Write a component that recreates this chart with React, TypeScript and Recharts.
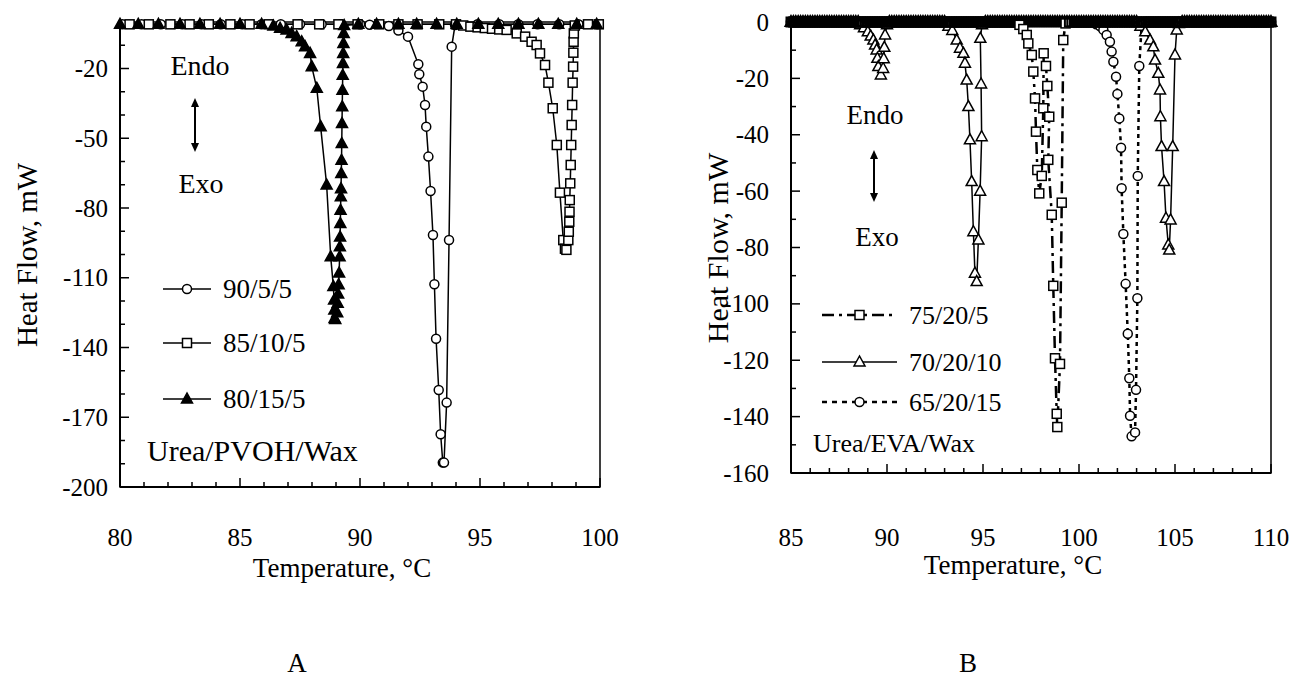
import React from 'react';
import { LineChart, Line, XAxis, YAxis, ReferenceArea } from 'recharts';

type Pt = { x: number; y: number };

const FONT = '"Liberation Serif", "Times New Roman", serif';

// ---------- Panel A : Urea/PVOH/Wax ----------
const seriesNamesA = ['90/5/5', '85/10/5', '80/15/5'];

const tempA1 = [80.1, 80.9, 81.7, 82.6, 83.4, 84.2, 85.1, 85.9, 86.7, 87.5, 88.4, 89.2, 90.0, 90.4, 91.2, 91.6, 92.0,
  92.43, 92.47, 92.61, 92.71, 92.76, 92.85, 92.94, 93.04, 93.1, 93.17, 93.28, 93.36, 93.45, 93.5,
  93.61, 93.71, 93.82, 93.96, 94.9, 95.8, 96.6, 97.4, 98.3, 99.1, 99.9];
const flowA1 = [-1, -1, -1, -1, -1, -1, -1, -1, -1, -1, -1, -1, -1, -1.2, -1.7, -3.7, -6.3,
  -18.2, -22.5, -27.8, -35.7, -45, -57.9, -72.7, -91.6, -112.8, -136.2, -158.3, -177.3, -189.5, -189.5,
  -163.7, -93.8, -10.6, -1.3, -1, -1, -1, -1, -1, -1, -1];

const tempA2 = [80.4, 81.2, 82.1, 82.9, 83.7, 84.6, 85.4, 86.2, 87.4, 88.3, 89.1, 89.9, 90.8, 91.6, 92.4, 93.3, 94.0,
  94.3, 94.6, 94.9, 95.2, 95.5, 95.8, 96.11, 96.53, 96.88, 97.15, 97.36, 97.5, 97.71, 97.85, 98.03, 98.2,
  98.33, 98.47, 98.54, 98.6, 98.68, 98.7, 98.72, 98.73, 98.74, 98.76, 98.78, 98.8, 98.82, 98.84,
  98.86, 98.88, 98.89, 98.9, 98.91, 98.95, 99.5, 99.95];
const flowA2 = [-1, -1, -1, -1, -1, -1, -1, -1, -1, -1, -1, -1, -1, -1, -1, -1, -1,
  -1.5, -2, -2.3, -2.6, -2.9, -3.2, -3.4, -4.9, -6.3, -8.5, -9.9, -13.5, -18.5, -26.1, -37.1, -52.9,
  -73.4, -93.8, -97.5, -98, -93.8, -90.2, -85.9, -81.6, -76.6, -69.4, -61.5, -52.9, -44.3, -35.7,
  -26.1, -19.2, -13.2, -8.5, -4.9, -1.5, -1, -1];

const tempA3 = [80.0, 80.76, 81.6, 82.5, 83.33, 84.17, 85.0, 85.9, 86.39, 86.67, 86.94, 87.15, 87.36, 87.57, 87.71,
  87.92, 87.99, 88.2, 88.36, 88.61, 88.78, 88.89, 88.92, 88.93, 88.94, 88.97,
  89.05, 89.07, 89.09, 89.11, 89.13, 89.15, 89.16, 89.17, 89.18, 89.19, 89.2, 89.21, 89.22, 89.23,
  89.24, 89.25, 89.26, 89.27, 89.28, 89.29, 89.3, 89.31, 89.32, 89.34,
  89.93, 90.69, 91.6, 92.36, 93.19, 94.03, 94.93, 95.76, 96.6, 97.43, 98.26, 99.03, 99.86];
const flowA3 = [-1, -1, -1, -1, -1, -1, -1, -1, -1.7, -2.7, -3.4, -4.9, -6.3, -8.5, -10.6,
  -13.5, -19.2, -28.5, -45, -70.1, -101, -113.8, -119.6, -123.9, -127.5, -128,
  -125, -121, -117, -113, -108, -101, -96.7, -92.5, -86.7, -81, -75.2, -71.7, -65.2, -59.5,
  -52.3, -43.7, -36.5, -29.4, -22.9, -17.8, -13.5, -9.2, -4.9, -1.5,
  -1, -1, -1, -1, -1, -1, -1, -1, -1, -1, -1, -1, -1];

const xTicksA = [80, 81, 82, 83, 84, 85, 86, 87, 88, 89, 90, 91, 92, 93, 94, 95, 96, 97, 98, 99, 100];
const xMajorA = [80, 85, 90, 95, 100];
const yTicksA = [-200, -190, -180, -170, -160, -150, -140, -130, -120, -110, -100, -90, -80, -70, -60, -50, -40, -30, -20, -10];
const yMajorA = [-200, -170, -140, -110, -80, -50, -20];

// ---------- Panel B : Urea/EVA/Wax ----------
const seriesNamesB = ['75/20/5', '70/20/10', '65/20/15'];

// temperatures of the (very dense) points sitting on the 0 mW baseline
const baseTempB = [
  85, 85.125, 85.25, 85.375, 85.5, 85.625, 85.75, 85.875,
  86, 86.125, 86.25, 86.375, 86.5, 86.625, 86.75, 86.875,
  87, 87.125, 87.25, 87.375, 87.5, 87.625, 87.75, 87.875,
  88, 88.125, 88.25, 88.375, 88.5, 88.625, 88.75, 88.875,
  89, 89.125, 89.25, 89.375, 89.5, 89.625, 89.75, 89.875,
  90, 90.125, 90.25, 90.375, 90.5, 90.625, 90.75, 90.875,
  91, 91.125, 91.25, 91.375, 91.5, 91.625, 91.75, 91.875,
  92, 92.125, 92.25, 92.375, 92.5, 92.625, 92.75, 92.875,
  93, 93.125, 93.25, 93.375, 93.5, 93.625, 93.75, 93.875,
  94, 94.125, 94.25, 94.375, 94.5, 94.625, 94.75, 94.875,
  95, 95.125, 95.25, 95.375, 95.5, 95.625, 95.75, 95.875,
  96, 96.125, 96.25, 96.375, 96.5, 96.625, 96.75, 96.875,
  97, 97.125, 97.25, 97.375, 97.5, 97.625, 97.75, 97.875,
  98, 98.125, 98.25, 98.375, 98.5, 98.625, 98.75, 98.875,
  99, 99.125, 99.25, 99.375, 99.5, 99.625, 99.75, 99.875,
  100, 100.125, 100.25, 100.375, 100.5, 100.625, 100.75, 100.875,
  101, 101.125, 101.25, 101.375, 101.5, 101.625, 101.75, 101.875,
  102, 102.125, 102.25, 102.375, 102.5, 102.625, 102.75, 102.875,
  103, 103.125, 103.25, 103.375, 103.5, 103.625, 103.75, 103.875,
  104, 104.125, 104.25, 104.375, 104.5, 104.625, 104.75, 104.875,
  105, 105.125, 105.25, 105.375, 105.5, 105.625, 105.75, 105.875,
  106, 106.125, 106.25, 106.375, 106.5, 106.625, 106.75, 106.875,
  107, 107.125, 107.25, 107.375, 107.5, 107.625, 107.75, 107.875,
  108, 108.125, 108.25, 108.375, 108.5, 108.625, 108.75, 108.875,
  109, 109.125, 109.25, 109.375, 109.5, 109.625, 109.75, 109.875,
  110,
];

const peakTempS = [96.9, 97.1, 97.28, 97.36, 97.54, 97.62, 97.71, 97.76, 97.83, 97.93, 98.06, 98.14, 98.16, 98.28,
  98.35, 98.45, 98.4, 98.58, 98.66, 98.75, 98.84, 98.87, 99.01, 99.1, 99.18, 99.3];
const peakFlowS = [-1, -2.5, -4.6, -7.6, -11.7, -17.6, -27.1, -38.9, -52.5, -60.8, -54.6, -30.6, -11.1, -15.6,
  -22.7, -33.6, -48.9, -68.4, -93.6, -119.3, -139, -143.7, -121.3, -64.1, -6.4, -0.5];

const peak1TempT = [88.6, 88.8, 89.0, 89.15, 89.29, 89.38, 89.46, 89.5, 89.55, 89.68, 89.8, 89.83, 89.86, 89.9, 90.0];
const peak1FlowT = [-1, -2, -3.5, -5, -6.4, -8.2, -9.9, -12.9, -15.8, -18.8, -16.5, -13, -9, -4.6, -1];
const peak2TempT = [93.2, 93.4, 93.63, 93.8, 93.98, 94.06, 94.15, 94.24, 94.32, 94.41, 94.5, 94.58, 94.67, 94.76,
  94.85, 94.93, 94.9, 94.86, 94.95];
const peak2FlowT = [-1.5, -3, -6.4, -9.3, -11.1, -14.6, -20.6, -30, -41.8, -56.6, -74.4, -89.1, -92.1, -77.3,
  -60, -40.7, -22, -5.8, -1];
const peak3TempT = [103.2, 103.45, 103.7, 103.87, 103.96, 104.13, 104.22, 104.24, 104.3, 104.43, 104.53, 104.65,
  104.7, 104.77, 104.88, 105.0, 105.09, 105.2];
const peak3FlowT = [-1.5, -3.5, -6.4, -8.8, -13.5, -18.2, -24.1, -33.6, -44.2, -56.6, -69.6, -79.1, -80.9, -70.2,
  -44.2, -11.7, -2.8, -0.5];

const peakTempC = [100.9, 101.1, 101.27, 101.44, 101.61, 101.7, 101.79, 101.93, 102.0, 102.1, 102.19, 102.22,
  102.31, 102.43, 102.54, 102.62, 102.66, 102.74, 102.92, 102.97, 103.04, 103.06, 103.14, 103.27];
const peakFlowC = [-0.8, -1.5, -2.8, -4.6, -7.0, -10.5, -14.1, -19.4, -25.5, -34.2, -44.6, -59.0, -75.2, -92.9,
  -110.6, -126.4, -139.7, -147, -145.6, -130.5, -98, -54.6, -15.6, -0.2];

const xTicksB = [85, 86, 87, 88, 89, 90, 91, 92, 93, 94, 95, 96, 97, 98, 99, 100, 101, 102, 103, 104, 105, 106, 107, 108, 109, 110];
const xMajorB = [85, 90, 95, 100, 105, 110];
const yTicksB = [-160, -150, -140, -130, -120, -110, -100, -90, -80, -70, -60, -50, -40, -30, -20, -10, 0];
const yMajorB = [-160, -140, -120, -100, -80, -60, -40, -20, 0];

// ---------- helpers ----------
const zip = (t: number[], h: number[]): Pt[] => t.map((x, i) => ({ x, y: h[i] }));
const base = (from: number, to: number): Pt[] =>
  baseTempB.filter((t) => t >= from && t <= to).map((t) => ({ x: t, y: 0 }));

const dataA1 = zip(tempA1, flowA1);
const dataA2 = zip(tempA2, flowA2);
const dataA3 = zip(tempA3, flowA3);

const dataB1 = [...base(85, 96.8), ...zip(peakTempS, peakFlowS), ...base(99.4, 110)];
const dataB2 = [
  ...base(85, 88.5), ...zip(peak1TempT, peak1FlowT), ...base(90.1, 93.1),
  ...zip(peak2TempT, peak2FlowT), ...base(95.1, 103.1), ...zip(peak3TempT, peak3FlowT), ...base(105.3, 110),
];
const dataB3 = [...base(85, 100.8), ...zip(peakTempC, peakFlowC), ...base(103.4, 110)];

type Shape = 'circle' | 'square' | 'triFilled' | 'triOpen';

const marker = (shape: Shape, cx: number, cy: number, key?: string, hollow = false) => {
  const bg = hollow ? 'none' : '#fff';
  const sw = hollow ? 2 : 1.5;
  if (shape === 'circle')
    return <circle key={key} cx={cx} cy={cy} r={4.5} fill={bg} stroke="#000" strokeWidth={sw} />;
  if (shape === 'square')
    return <rect key={key} x={cx - 4.5} y={cy - 4.5} width={9} height={9} fill={bg} stroke="#000" strokeWidth={sw} />;
  const filled = shape === 'triFilled';
  return (
    <polygon
      key={key}
      points={`${cx},${cy - 6} ${cx - 5.5},${cy + 4} ${cx + 5.5},${cy + 4}`}
      fill={filled ? '#000' : bg}
      stroke="#000"
      strokeWidth={sw}
    />
  );
};

// baseline points of panel B overlap so densely that they read as a solid band
const dot = (shape: Shape, hollowBase = false) => (p: any) => {
  if (p.cx == null || p.cy == null) return <g key={`e-${p.index}`} />;
  const hollow = hollowBase && p.payload && p.payload.y === 0;
  return marker(shape, p.cx, p.cy, `${shape}-${p.index}`, hollow);
};

const xTick = (majors: number[], offset: number) => (p: any) => {
  const v = p.payload.value;
  const major = majors.includes(v);
  return (
    <g key={`xt-${v}`}>
      <line x1={p.x} x2={p.x} y1={p.y} y2={p.y - (major ? 9 : 5)} stroke="#000" strokeWidth={1.5} />
      {major && (
        <text x={p.x} y={p.y + offset} textAnchor="middle" dominantBaseline="central" fontSize={25} fontFamily={FONT} fill="#000">
          {v}
        </text>
      )}
    </g>
  );
};

const yTick = (majors: number[], gap: number) => (p: any) => {
  const v = p.payload.value;
  const major = majors.includes(v);
  return (
    <g key={`yt-${v}`}>
      <line x1={p.x} x2={p.x + (major ? 9 : 5)} y1={p.y} y2={p.y} stroke="#000" strokeWidth={1.5} />
      {major && (
        <text x={p.x - gap} y={p.y} textAnchor="end" dominantBaseline="central" fontSize={25} fontFamily={FONT} fill="#000">
          {v}
        </text>
      )}
    </g>
  );
};

const txt = (x: number, y: number, s: string, anchor: 'start' | 'middle' | 'end' = 'middle', size = 26, rot = 0) => (
  <text
    x={x}
    y={y}
    textAnchor={anchor}
    dominantBaseline="central"
    fontSize={size}
    fontFamily={FONT}
    fill="#000"
    transform={rot ? `rotate(${rot} ${x} ${y})` : undefined}
  >
    {s}
  </text>
);

const arrow = (x: number, y1: number, y2: number) => (
  <g>
    <line x1={x} x2={x} y1={y1 + 6} y2={y2 - 6} stroke="#000" strokeWidth={2} />
    <polygon points={`${x},${y1} ${x - 4},${y1 + 9} ${x + 4},${y1 + 9}`} fill="#000" />
    <polygon points={`${x},${y2} ${x - 4},${y2 - 9} ${x + 4},${y2 - 9}`} fill="#000" />
  </g>
);

const legendRow = (x1: number, x2: number, y: number, shape: Shape, label: string, size: number, dash?: string, sw = 1.5) => (
  <g>
    <line x1={x1} x2={x2} y1={y} y2={y} stroke="#000" strokeWidth={sw} strokeDasharray={dash} />
    {marker(shape, (x1 + x2) / 2, y)}
    {txt(x2 + 12, y, label, 'start', size)}
  </g>
);

export default function App() {
  return (
    <div style={{ position: 'absolute', left: 0, top: 0, width: 1293, height: 678, background: '#fff', fontFamily: FONT }}>
      {/* Panel A */}
      <div style={{ position: 'absolute', left: 0, top: 0 }}>
        <LineChart width={640} height={600} margin={{ top: 22, right: 40, bottom: 53, left: 60 }}>
          <XAxis
            type="number"
            dataKey="x"
            domain={[80, 100]}
            ticks={xTicksA}
            interval={0}
            tickSize={0}
            tickMargin={0}
            tickLine={false}
            height={60}
            axisLine={{ stroke: '#000', strokeWidth: 2 }}
            tick={xTick(xMajorA, 50)}
          />
          <YAxis
            type="number"
            domain={[-200, 0]}
            ticks={yTicksA}
            interval={0}
            tickSize={0}
            tickMargin={0}
            tickLine={false}
            width={60}
            axisLine={{ stroke: '#000', strokeWidth: 2 }}
            tick={yTick(yMajorA, 12)}
          />
          <ReferenceArea x1={80} x2={100} y1={-200} y2={0} fill="none" stroke="#000" strokeWidth={1.5} />
          <Line data={dataA1} dataKey="y" name={seriesNamesA[0]} type="linear" stroke="#000" strokeWidth={1.5} dot={dot('circle')} isAnimationActive={false} />
          <Line data={dataA2} dataKey="y" name={seriesNamesA[1]} type="linear" stroke="#000" strokeWidth={1.5} dot={dot('square')} isAnimationActive={false} />
          <Line data={dataA3} dataKey="y" name={seriesNamesA[2]} type="linear" stroke="#000" strokeWidth={1.5} dot={dot('triFilled')} isAnimationActive={false} />
        </LineChart>
      </div>

      {/* Panel B */}
      <div style={{ position: 'absolute', left: 700, top: 0 }}>
        <LineChart width={593} height={600} margin={{ top: 22, right: 22, bottom: 67, left: 31 }}>
          <XAxis
            type="number"
            dataKey="x"
            domain={[85, 110]}
            ticks={xTicksB}
            interval={0}
            tickSize={0}
            tickMargin={0}
            tickLine={false}
            height={60}
            axisLine={{ stroke: '#000', strokeWidth: 2 }}
            tick={xTick(xMajorB, 64)}
          />
          <YAxis
            type="number"
            domain={[-160, 0]}
            ticks={yTicksB}
            interval={0}
            tickSize={0}
            tickMargin={0}
            tickLine={false}
            width={60}
            axisLine={{ stroke: '#000', strokeWidth: 2 }}
            tick={yTick(yMajorB, 22)}
          />
          <ReferenceArea x1={85} x2={110} y1={-160} y2={0} fill="none" stroke="#000" strokeWidth={1.5} />
          <Line data={dataB3} dataKey="y" name={seriesNamesB[2]} type="linear" stroke="#000" strokeWidth={2.5} strokeDasharray="4 4" dot={dot('circle', true)} isAnimationActive={false} />
          <Line data={dataB2} dataKey="y" name={seriesNamesB[1]} type="linear" stroke="#000" strokeWidth={1.5} dot={dot('triOpen', true)} isAnimationActive={false} />
          <Line data={dataB1} dataKey="y" name={seriesNamesB[0]} type="linear" stroke="#000" strokeWidth={2.5} strokeDasharray="12 5 3 5" dot={dot('square', true)} isAnimationActive={false} />
        </LineChart>
      </div>

      {/* titles, annotations and legends */}
      <svg width={1293} height={678} style={{ position: 'absolute', left: 0, top: 0, pointerEvents: 'none' }}>
        {txt(27, 255, 'Heat Flow, mW', 'middle', 29, -90)}
        {txt(342, 568, 'Temperature, °C', 'middle', 27)}
        {txt(297, 663, 'A', 'middle', 27)}
        {txt(200, 65, 'Endo', 'middle', 28)}
        {arrow(195, 98, 152)}
        {txt(201, 183, 'Exo', 'middle', 28)}
        {legendRow(163, 211, 289, 'circle', seriesNamesA[0], 27)}
        {legendRow(163, 211, 343, 'square', seriesNamesA[1], 27)}
        {legendRow(163, 211, 399, 'triFilled', seriesNamesA[2], 27)}
        {txt(147, 450, 'Urea/PVOH/Wax', 'start', 30)}

        {txt(717, 248, 'Heat Flow, mW', 'middle', 30, -90)}
        {txt(1013, 565, 'Temperature, °C', 'middle', 27)}
        {txt(968, 663, 'B', 'middle', 27)}
        {txt(875, 115, 'Endo', 'middle', 27)}
        {arrow(874, 150, 202)}
        {txt(877, 237, 'Exo', 'middle', 27)}
        {legendRow(822, 897, 315, 'square', seriesNamesB[0], 26, '12 5 3 5', 2.5)}
        {legendRow(822, 897, 362, 'triOpen', seriesNamesB[1], 26)}
        {legendRow(822, 897, 402, 'circle', seriesNamesB[2], 26, '5 5', 2.5)}
        {txt(813, 443, 'Urea/EVA/Wax', 'start', 26)}
      </svg>
    </div>
  );
}
